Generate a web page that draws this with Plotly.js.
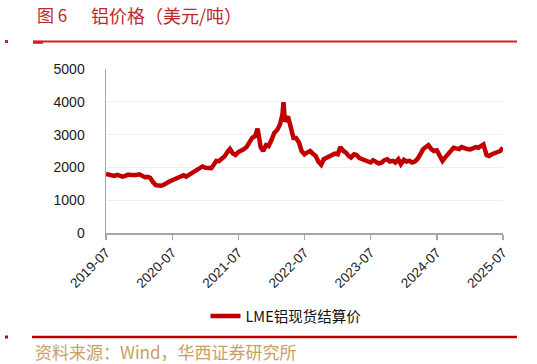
<!DOCTYPE html>
<html>
<head>
<meta charset="utf-8">
<script src="https://cdn.plot.ly/plotly-3.0.1.min.js"></script>
<style>
html,body{margin:0;padding:0;background:#fff;}
#chart{width:537px;height:364px;}
</style>
</head>
<body>
<div id="chart"></div>
<script>
// Semi-monthly sample months (1st and 15th) plus the March 2022 spike
const months = [
 "2019-07","2019-08","2019-09","2019-10","2019-11","2019-12",
 "2020-01","2020-02","2020-03","2020-04","2020-05","2020-06","2020-07","2020-08","2020-09","2020-10","2020-11","2020-12",
 "2021-01","2021-02","2021-03","2021-04","2021-05","2021-06","2021-07","2021-08","2021-09","2021-10","2021-11","2021-12",
 "2022-01","2022-02","2022-03","2022-04","2022-05","2022-06","2022-07","2022-08","2022-09","2022-10","2022-11","2022-12",
 "2023-01","2023-02","2023-03","2023-04","2023-05","2023-06","2023-07","2023-08","2023-09","2023-10","2023-11","2023-12",
 "2024-01","2024-02","2024-03","2024-04","2024-05","2024-06","2024-07","2024-08","2024-09","2024-10","2024-11","2024-12",
 "2025-01","2025-02","2025-03","2025-04","2025-05","2025-06"
];
// values on the 1st and the 15th of each month (USD/t)
const firstHalf = [
 1800,1760,1770,1720,1780,1760,
 1790,1700,1680,1460,1440,1540,1610,1700,1760,1780,1860,2010,
 1990,1980,2200,2250,2470,2420,2470,2560,2800,2950,2620,2680,
 2850,3150,3600,3550,2900,2750,2400,2500,2350,2080,2300,2400,
 2400,2500,2350,2400,2280,2230,2150,2180,2150,2250,2200,2250,
 2230,2200,2180,2400,2620,2550,2520,2200,2400,2600,2560,2580,
 2550,2620,2650,2380,2400,2470
];
const secondHalf = [
 1790,1740,1730,1740,1770,1770,
 1760,1710,1560,1450,1470,1570,1640,1730,1720,1820,1950,2030,
 2000,2080,2190,2330,2560,2380,2500,2620,2900,3180,2500,2650,
 3050,3300,3400,3250,2900,2500,2450,2420,2180,2250,2350,2420,
 2620,2450,2300,2380,2250,2180,2220,2120,2220,2180,2150,2100,
 2180,2150,2250,2550,2680,2500,2350,2300,2500,2580,2620,2560,
 2580,2600,2700,2350,2450,2500
];
const spikeDate = "2022-03-07";
const spikeValue = 3985;
const lastDate = "2025-07-01";
const lastValue = 2600;

const seriesName = "LME铝现货结算价";
const xTicks = ["2019-07","2020-07","2021-07","2022-07","2023-07","2024-07","2025-07"];
const yTicks = [0,1000,2000,3000,4000,5000];

// build series
const dates = [], vals = [];
months.forEach((m,i)=>{
  dates.push(m+"-01"); vals.push(firstHalf[i]);
  if (m === "2022-03") { dates.push(spikeDate); vals.push(spikeValue); }
  dates.push(m+"-15"); vals.push(secondHalf[i]);
});
dates.push(lastDate); vals.push(lastValue);

// pixel helpers for decorations (plot area: x 106..503, y 69..233)
const L=106, R=503, T=69, B=233;
const px = x => (x-L)/(R-L);
const py = y => (B-y)/(B-T);

const red = "#c00000";
const trace = {
  x: dates, y: vals, type: "scatter", mode: "lines", name: seriesName,
  line: {color: red, width: 4.5}
};

const layout = {
  width: 537, height: 364,
  margin: {l: L, r: 537-R, t: T, b: 364-B},
  paper_bgcolor: "#fff", plot_bgcolor: "#fff",
  font: {family: "Arial, Liberation Sans, sans-serif", color: "#1a1a1a"},
  showlegend: true,
  legend: {
    orientation: "h", x: px(286), xanchor: "center", y: py(316), yanchor: "middle",
    font: {family: "Noto Sans CJK SC", size: 14.5, color: "#111"},
    bgcolor: "rgba(0,0,0,0)"
  },
  xaxis: {
    type: "date",
    range: ["2019-07-01","2025-07-01"],
    tickmode: "array",
    tickvals: xTicks.map(t=>t+"-01"),
    ticktext: xTicks,
    tickangle: -45,
    ticks: "outside", ticklen: 5, tickcolor: "#a6a6a6", tickwidth: 1.5,
    showline: true, linecolor: "#a6a6a6", linewidth: 1.5,
    showgrid: false, zeroline: false,
    tickfont: {size: 13.5, color: "#1a1a1a"}
  },
  yaxis: {
    range: [0,5000],
    tickmode: "array", tickvals: yTicks,
    ticks: "", showline: true, linecolor: "#a6a6a6", linewidth: 1.5,
    showgrid: true, gridcolor: "#efefef", gridwidth: 1.2,
    zeroline: false,
    ticklabelstandoff: 17,
    tickfont: {size: 14, color: "#1a1a1a"}
  },
  shapes: [
    {type:"line", xref:"paper", yref:"paper", x0:px(33), x1:px(517), y0:py(41.5), y1:py(41.5), line:{color:"#d42020", width:2}},
    {type:"line", xref:"paper", yref:"paper", x0:px(33), x1:px(43), y0:py(42.3), y1:py(42.3), line:{color:"#d42020", width:3}},
    {type:"rect", xref:"paper", yref:"paper", x0:px(5), x1:px(8), y0:py(40), y1:py(43), fillcolor:"#d42020", line:{width:0}},
    {type:"line", xref:"paper", yref:"paper", x0:px(32), x1:px(517), y0:py(337), y1:py(337), line:{color:red, width:2.5}},
    {type:"rect", xref:"paper", yref:"paper", x0:px(5), x1:px(8), y0:py(335.5), y1:py(338.5), fillcolor:red, line:{width:0}}
  ],
  annotations: [
    {xref:"paper", yref:"paper", x:px(35), y:py(15), xanchor:"left", yanchor:"middle", showarrow:false,
     text:"图 6", font:{family:"Noto Sans CJK SC", size:17, color:"#c0282d"}},
    {xref:"paper", yref:"paper", x:px(89), y:py(15), xanchor:"left", yanchor:"middle", showarrow:false,
     text:"铝价格（美元/吨）", font:{family:"Noto Sans CJK SC", size:18, color:"#c0282d"}},
    {xref:"paper", yref:"paper", x:px(33), y:py(351), xanchor:"left", yanchor:"middle", showarrow:false,
     text:"资料来源：Wind，华西证券研究所", font:{family:"Noto Sans CJK SC", size:17, color:"#c9a063"}}
  ]
};

Plotly.newPlot("chart", [trace], layout, {displayModeBar: false, staticPlot: true});
</script>
</body>
</html>
